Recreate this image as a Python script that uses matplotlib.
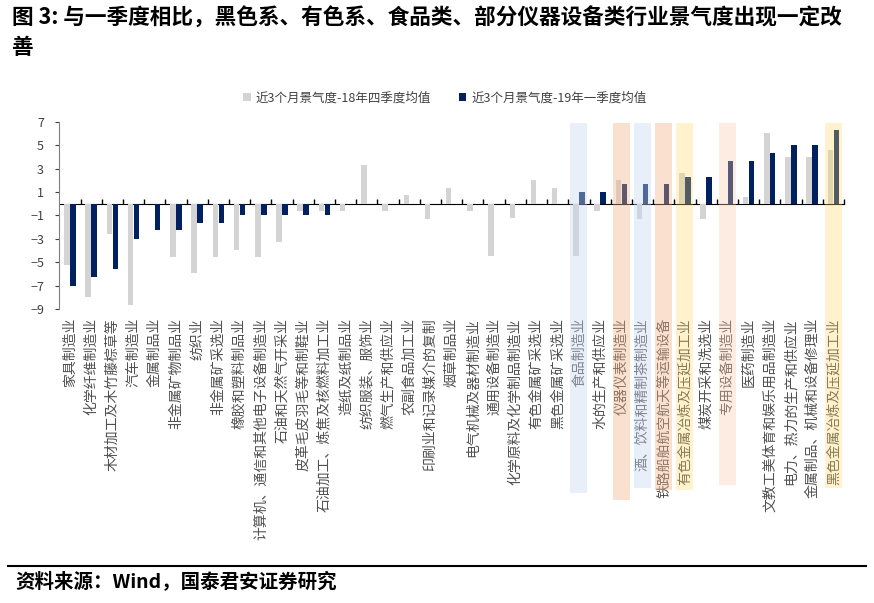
import matplotlib
matplotlib.use('Agg')
import matplotlib.pyplot as plt
from matplotlib.patches import Rectangle
from matplotlib.lines import Line2D
from matplotlib.transforms import blended_transform_factory

plt.rcParams['font.family'] = ['Noto Sans CJK SC', 'DejaVu Sans']

industries = [
    '家具制造业', '化学纤维制造业', '木材加工及木竹藤棕草等', '汽车制造业', '金属制品业',
    '非金属矿物制品业', '纺织业', '非金属矿采选业', '橡胶和塑料制品业',
    '计算机、通信和其他电子设备制造业', '石油和天然气开采业', '皮革毛皮羽毛等和制鞋业',
    '石油加工、炼焦及核燃料加工业', '造纸及纸制品业', '纺织服装、服饰业', '燃气生产和供应业',
    '农副食品加工业', '印刷业和记录媒介的复制', '烟草制品业', '电气机械及器材制造业',
    '通用设备制造业', '化学原料及化学制品制造业', '有色金属矿采选业', '黑色金属矿采选业',
    '食品制造业', '水的生产和供应业', '仪器仪表制造业', '酒、饮料和精制茶制造业',
    '铁路船舶航空航天等运输设备', '有色金属冶炼及压延加工业', '煤炭开采和洗选业',
    '专用设备制造业', '医药制造业', '文教工美体育和娱乐用品制造业', '电力、热力的生产和供应业',
    '金属制品、机械和设备修理业', '黑色金属冶炼及压延加工业',
]
vs_18q4 = [-5.2, -8.0, -2.6, -8.7, 0.0, -4.6, -5.9, -4.6, -4.0, -4.6, -3.3, -0.6, -0.6,
           -0.65, 3.3, -0.65, 0.7, -1.3, 1.35, -0.65, -4.5, -1.25, 2.0, 1.35, -4.5, -0.6,
           2.0, -1.3, 0.0, 2.65, -1.3, 0.0, 0.6, 6.0, 4.0, 4.0, 4.6]
vs_19q1 = [-7.0, -6.3, -5.6, -3.0, -2.25, -2.25, -1.65, -1.65, -0.97, -0.97, -0.97, -0.97,
           -0.97, 0.0, 0.0, 0.0, 0.0, 0.0, 0.0, 0.0, 0.0, 0.0, 0.0, 0.0, 1.0, 1.0, 1.65, 1.65,
           1.65, 2.3, 2.3, 3.65, 3.65, 4.3, 5.0, 5.0, 6.3]

# highlighted industries: (index, colour, alpha, bottom of band in px)
highlights = [
    (24, '#c9d7ef', 0.40, 493),
    (26, '#f4b183', 0.38, 500),
    (27, '#c9d7ef', 0.40, 488),
    (28, '#f4b183', 0.38, 490),
    (29, '#ffd966', 0.32, 490),
    (31, '#f8cbad', 0.35, 485),
    (36, '#ffd966', 0.32, 488),
]

W, H = 874, 603
fig = plt.figure(figsize=(W / 100, H / 100), dpi=100)
ax = fig.add_axes([59.3 / W, 1 - 309 / H, (844 - 59.3) / W, (309 - 121.7) / H])

x = list(range(len(industries)))
ax.bar([i - 0.14 for i in x], vs_18q4, width=0.26, color='#d4d4d4', zorder=2,
       label='近3个月景气度-18年四季度均值')
ax.bar([i + 0.14 for i in x], vs_19q1, width=0.26, color='#002060', zorder=2,
       label='近3个月景气度-19年一季度均值')

ax.set_xlim(-0.5, len(industries) - 0.5)
ax.set_ylim(-9, 7)
ax.set_yticks(range(-9, 8, 2))
ax.tick_params(axis='y', direction='out', length=3, labelsize=9, colors='#404040', pad=8)
ax.set_xticks(x)
ax.set_xticklabels(industries, rotation=90, fontsize=10, color='#505050')
ax.tick_params(axis='x', length=0, pad=6.5)
for s in ['top', 'right', 'bottom']:
    ax.spines[s].set_visible(False)
ax.spines['left'].set_color('#7f7f7f')

# zero axis with category boundary ticks
sec = ax.secondary_xaxis(9 / 16)
sec.set_xticks([i + 0.5 for i in x])
sec.set_xticklabels([])
sec.tick_params(direction='out', length=3.5, color='black', width=1)
sec.spines['bottom'].set_color('#8c8c8c')
sec.spines['bottom'].set_linewidth(1.2)

# highlight bands
tr = blended_transform_factory(ax.transData, fig.transFigure)
for idx, col, a, bot in highlights:
    top = 1 - 123 / H
    r = Rectangle((idx - 0.4, 1 - bot / H), 0.8, top - (1 - bot / H), transform=tr,
                  facecolor=col, edgecolor='none', alpha=a, zorder=5, clip_on=False)
    fig.add_artist(r)

fig.legend(loc='center', bbox_to_anchor=(445 / W, 1 - 98 / H), ncol=2, frameon=False,
           handlelength=0.6, handleheight=0.6, handletextpad=0.4, columnspacing=2.2,
           prop={'size': 9}, labelcolor='#404040')

fig.text(12 / W, 1 - 18 / H,
         '图 3: 与一季度相比，黑色系、有色系、食品类、部分仪器设备类行业景气度出现一定改',
         fontsize=15.6, fontweight='bold', va='center', ha='left')
fig.text(12 / W, 1 - 48 / H, '善', fontsize=15.6, fontweight='bold', va='center', ha='left')

fig.add_artist(Line2D([8 / W, 866 / W], [1 - 566 / H, 1 - 566 / H], color='black', lw=1.5))
fig.text(15 / W, 1 - 582 / H, '资料来源：Wind，国泰君安证券研究', fontsize=14,
         fontweight='bold', va='center', ha='left')

fig.savefig('out.png', dpi=100)
